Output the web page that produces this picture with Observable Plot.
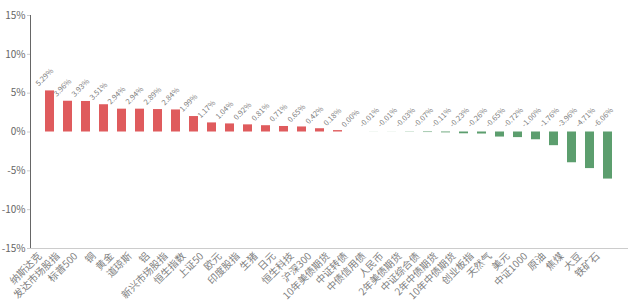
<!DOCTYPE html>
<html>
<head>
<meta charset="utf-8">
<script src="https://cdn.jsdelivr.net/npm/d3@7"></script>
<script src="https://cdn.jsdelivr.net/npm/@observablehq/plot@0.6"></script>
<style>
  html, body { margin: 0; padding: 0; background: #fff; }
  #chart { width: 640px; height: 302px; }
</style>
</head>
<body>
<div id="chart"></div>
<script>
const names = ["纳斯达克","发达市场股指","标普500","铜","黄金","道琼斯","铝","新兴市场股指","恒生指数","上证50","欧元","印度股指","生猪","日元","恒生科技","沪深300","10年美债期货","中证转债","中债信用债","人民币","2年美债期货","中证综合债","2年中债期货","10年中债期货","创业板指","天然气","美元","中证1000","原油","焦煤","大豆","铁矿石"];
const values = [5.29,3.96,3.93,3.51,2.94,2.94,2.89,2.84,1.99,1.17,1.04,0.92,0.81,0.71,0.65,0.42,0.18,0.00,-0.01,-0.01,-0.03,-0.07,-0.11,-0.23,-0.26,-0.65,-0.72,-1.00,-1.76,-3.96,-4.71,-6.06];
const yTicks = [-15,-10,-5,0,5,10,15];

const data = names.map((n, i) => ({name: n, v: values[i]}));

const chart = Plot.plot({
  width: 640,
  height: 302,
  marginTop: 15,
  marginBottom: 54,
  marginLeft: 30,
  marginRight: 12,
  style: {fontFamily: "'Noto Sans CJK SC', 'Noto Sans', sans-serif", color: "#666", background: "#fff"},
  x: {domain: names, padding: 0.48, label: null},
  y: {domain: [-15, 15], ticks: yTicks, tickFormat: d => d + "%", label: null, tickSize: 3, tickPadding: 2, line: true},
  marks: [
    Plot.ruleY([-15], {stroke: "#ccc"}),
    Plot.axisX({tickRotate: -45, tickSize: 0, tickPadding: 3, dx: -10, dy: 3, fontSize: 10, fill: "#808080", label: null}),
    Plot.barY(data, {x: "name", y: "v", fill: d => d.v >= 0 ? "#df5b5d" : "#5c9e6e"}),
    Plot.text(data, {
      x: "name",
      y: d => Math.max(0, d.v),
      text: d => d.v.toFixed(2) + "%",
      rotate: -45,
      textAnchor: "start",
      dx: -13,
      dy: -6,
      fontSize: 7.5,
      fill: "#808080"
    })
  ]
});

d3.select(chart).selectAll("[aria-label='y-axis tick label'] text, [aria-label='y-axis'] text").attr("font-size", 10);
d3.select(chart).selectAll("[aria-label='y-axis'] path, [aria-label='y-axis tick'] path").attr("stroke", "#ccc");
document.getElementById("chart").appendChild(chart);
</script>
</body>
</html>
